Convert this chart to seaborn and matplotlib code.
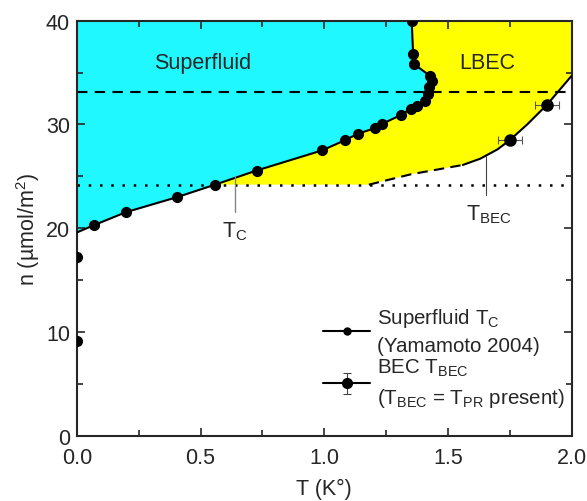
import numpy as np
import matplotlib
matplotlib.use("Agg")
import matplotlib.pyplot as plt
from matplotlib.lines import Line2D
from matplotlib.ticker import MultipleLocator
import seaborn as sns

# ---- data ----
# superfluid Tc curve (line starts at T=0 without a marker)
sf_line_T = [0.0, 0.069, 0.198, 0.405, 0.558, 0.726, 0.991, 1.085, 1.135, 1.204, 1.234,
             1.309, 1.349, 1.375, 1.406, 1.420, 1.422, 1.436, 1.426, 1.363, 1.359, 1.353]
sf_line_n = [19.6, 20.3, 21.55, 23.0, 24.2, 25.56, 27.5, 28.5, 29.1, 29.64, 30.06,
             30.9, 31.5, 31.8, 32.3, 32.9, 33.6, 34.2, 34.7, 35.8, 36.8, 40.0]
sf_pts_T = sf_line_T[1:] + [0.0, 0.0]
sf_pts_n = sf_line_n[1:] + [17.2, 9.1]

# BEC line: dashed (extrapolated) part and solid part
bec_dash_T = [1.18, 1.35, 1.56]
bec_dash_n = [24.2, 25.2, 26.1]
bec_solid_T = [1.56, 1.63, 1.70, 1.75, 1.82, 1.90, 2.0]
bec_solid_n = [26.1, 26.7, 27.6, 28.5, 30.0, 31.9, 34.7]
bec_pts_T = [1.75, 1.90]
bec_pts_n = [28.5, 31.9]
bec_err = [0.05, 0.05]

n_dash = 33.1   # dashed horizontal
n_dot = 24.2    # dotted horizontal

sns.set_style("ticks")
plt.rcParams['font.family'] = ['Liberation Sans', 'DejaVu Sans']
plt.rcParams['mathtext.fontset'] = 'custom'
plt.rcParams['mathtext.rm'] = 'Liberation Sans'
plt.rcParams['mathtext.it'] = 'Liberation Sans:italic'

fs = 15.5
fig = plt.figure(figsize=(5.87, 5.02), dpi=100)
ax = fig.add_axes([0.131, 0.1295, 0.843, 0.8275])

# regions
cyan_x = [0.0] + sf_line_T + [0.0]
cyan_y = [40.0] + sf_line_n + [40.0]
ax.fill(cyan_x, cyan_y, color='#1ff8ff', lw=0, zorder=0)

i_tc = sf_line_T.index(0.558)
yel_x = sf_line_T[i_tc:] + [2.0, 2.0] + bec_solid_T[::-1] + bec_dash_T[::-1]
yel_y = sf_line_n[i_tc:] + [40.0, 40.0] + bec_solid_n[::-1] + bec_dash_n[::-1]
yel_x = yel_x + [0.558]
yel_y = yel_y + [n_dot]
ax.fill(yel_x, yel_y, color='#ffff00', lw=0, zorder=0)

# horizontal reference lines
ax.axhline(n_dash, color='black', ls=(0, (5, 3.5)), lw=1.5, zorder=2)
ax.axhline(n_dot, color='black', ls=(0, (1, 3.5)), lw=1.8, zorder=2)

# superfluid curve
sns.lineplot(x=sf_line_T, y=sf_line_n, sort=False, estimator=None, color='black',
             lw=1.5, ax=ax, zorder=3)
ax.plot(sf_pts_T, sf_pts_n, 'o', color='black', ms=7, zorder=4, clip_on=True)

# BEC curve
sns.lineplot(x=bec_dash_T, y=bec_dash_n, sort=False, estimator=None, color='black',
             lw=1.5, ls=(0, (5, 3)), ax=ax, zorder=3)
sns.lineplot(x=bec_solid_T, y=bec_solid_n, sort=False, estimator=None, color='black',
             lw=1.5, ax=ax, zorder=3)
ax.errorbar(bec_pts_T, bec_pts_n, xerr=bec_err, fmt='o', color='black', ms=8,
            ecolor='#555555', elinewidth=0.8, capsize=3, capthick=0.8, zorder=4)

# annotations
ax.plot([0.638, 0.638], [25.0, 21.6], color='#888888', lw=1, zorder=3)
ax.text(0.638, 20.9, r'T$_\mathrm{C}$', ha='center', va='top', fontsize=fs)
ax.plot([1.655, 1.655], [27.0, 23.2], color='#444444', lw=0.8, zorder=3)
ax.text(1.665, 22.5, r'T$_\mathrm{BEC}$', ha='center', va='top', fontsize=fs)
ax.text(0.51, 36.0, 'Superfluid', ha='center', va='center', fontsize=fs)
ax.text(1.66, 36.0, 'LBEC', ha='center', va='center', fontsize=fs)

# legend
h1 = Line2D([], [], color='black', lw=1.5, marker='o', ms=5)
h2 = ax.errorbar([np.nan], [np.nan], yerr=[1], fmt='-o', color='black', ms=7, lw=1.5,
                 ecolor='#444444', elinewidth=0.8, capsize=3, capthick=0.8)
leg = ax.legend([h1, h2],
                ['Superfluid T$_\\mathrm{C}$\n(Yamamoto 2004)',
                 'BEC T$_\\mathrm{BEC}$\n(T$_\\mathrm{BEC}$ = T$_\\mathrm{PR}$ present)'],
                loc='lower right', bbox_to_anchor=(1.01, 0.035), frameon=False,
                fontsize=14.8, handlelength=2.3, handletextpad=0.3, labelspacing=0.1,
                borderaxespad=0.2)
for t in leg.get_texts():
    t.set_linespacing(1.45)

ax.set_xlim(0, 2.0)
ax.set_ylim(0, 40)
ax.xaxis.set_major_locator(MultipleLocator(0.5))
ax.xaxis.set_minor_locator(MultipleLocator(0.25))
ax.yaxis.set_major_locator(MultipleLocator(10))
ax.yaxis.set_minor_locator(MultipleLocator(5))
ax.xaxis.set_major_formatter(matplotlib.ticker.FormatStrFormatter('%.1f'))
ax.tick_params(which='both', direction='in', top=True, right=True, labelsize=fs, width=1.2)
ax.tick_params(which='major', length=6, pad=5)
ax.tick_params(axis='x', which='major', pad=8)
ax.tick_params(which='minor', length=4)
for s in ax.spines.values():
    s.set_linewidth(1.5)

ax.set_xlabel('T (K°)', fontsize=fs, labelpad=7)
ax.set_ylabel('n (µmol/m$^2$)', fontsize=fs, labelpad=3)

fig.savefig('out.png', dpi=100)
